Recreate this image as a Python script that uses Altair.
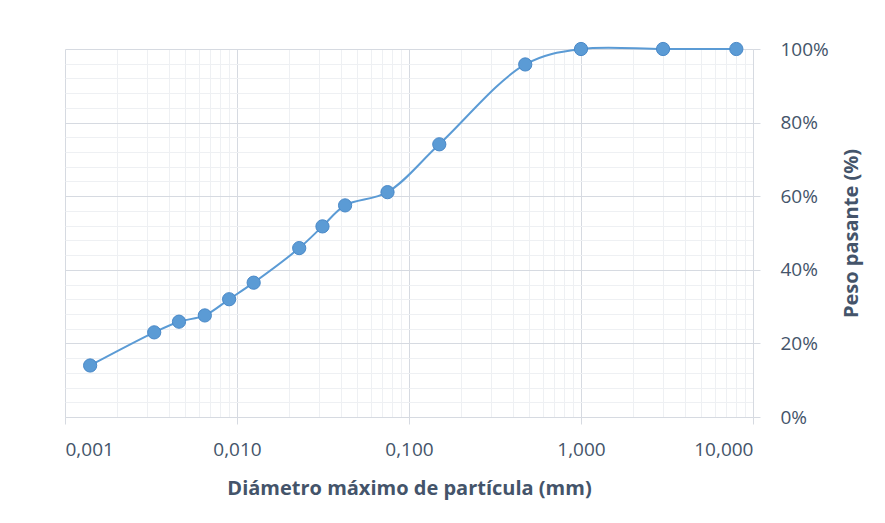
import altair as alt
import pandas as pd

# Data (grain-size curve)
diametro = [0.0014, 0.0033, 0.0046, 0.0065, 0.0090, 0.0125, 0.0230, 0.0314,
            0.0425, 0.0750, 0.150, 0.474, 1.0, 3.0, 8.0]
pasante = [14.0, 23.0, 25.9, 27.6, 32.0, 36.5, 45.9, 51.8,
           57.5, 61.1, 74.1, 95.8, 100.0, 100.0, 100.0]

decadas = [-3, -2, -1, 0]
multiplicadores = [1, 2, 3, 4, 5, 6, 7, 8, 9]
x_ticks = [m * 10 ** e for e in decadas for m in multiplicadores] + [10]
y_ticks = list(range(0, 101, 4))

df = pd.DataFrame({"d": diametro, "p": pasante})

TEXT = "#44546A"
MAJ = "#D6DAE1"
MIN = "#EEF0F3"
FONT = "Open Sans"

x_major = "abs(log(datum.value)/LN10 - round(log(datum.value)/LN10)) < 1e-6"
y_major = "datum.value % 20 == 0"

x_enc = alt.X(
    "d:Q",
    scale=alt.Scale(type="log", domain=[0.001, 10], nice=False),
    axis=alt.Axis(
        values=x_ticks,
        title="Diámetro máximo de partícula (mm)",
        labelExpr=f"({x_major}) ? replace(format(datum.value, '.3f'), '.', ',') : ''",
        gridColor={"condition": {"test": x_major, "value": MAJ}, "value": MIN},
        tickOpacity={"condition": {"test": x_major, "value": 1}, "value": 0},
        tickColor=MAJ,
        tickSize=7,
        domainColor=MAJ,
        labelColor=TEXT,
        labelFont=FONT,
        labelFontSize=19,
        labelPadding=16,
        labelOverlap=False,
        titleColor=TEXT,
        titleFont=FONT,
        titleFontSize=20,
        titleFontWeight="bold",
        titlePadding=19,
    ),
)

y_enc = alt.Y(
    "p:Q",
    scale=alt.Scale(domain=[0, 100], nice=False),
    axis=alt.Axis(
        orient="right",
        values=y_ticks,
        title="Peso pasante (%)",
        titleAngle=270,
        labelExpr=f"({y_major}) ? datum.value + '%' : ''",
        gridColor={"condition": {"test": y_major, "value": MAJ}, "value": MIN},
        tickOpacity={"condition": {"test": y_major, "value": 1}, "value": 0},
        tickColor=MAJ,
        tickSize=7,
        domainColor=MAJ,
        labelColor=TEXT,
        labelFont=FONT,
        labelFontSize=19,
        labelPadding=20,
        labelOverlap=False,
        labelAlign="left",
        titleColor=TEXT,
        titleFont=FONT,
        titleFontSize=20,
        titleFontWeight="bold",
        titlePadding=33,
    ),
)

base = alt.Chart(df)

line = base.mark_line(interpolate="catmull-rom", color="#5B9BD5", strokeWidth=2).encode(
    x=x_enc, y=y_enc
)
points = base.mark_point(
    filled=True, size=175, fill="#5B9BD5", stroke="#4A89C8", strokeWidth=1, opacity=1
).encode(x=x_enc, y=y_enc)

chart = (
    alt.layer(line, points)
    .properties(
        width=688,
        height=368,
        autosize=alt.AutoSizeParams(type="none"),
        padding={"left": 57, "top": 41, "right": 116, "bottom": 90},
        background="white",
    )
    .configure_view(stroke=None)
)

chart.save("out.html", embed_options={"renderer": "svg", "actions": False})
